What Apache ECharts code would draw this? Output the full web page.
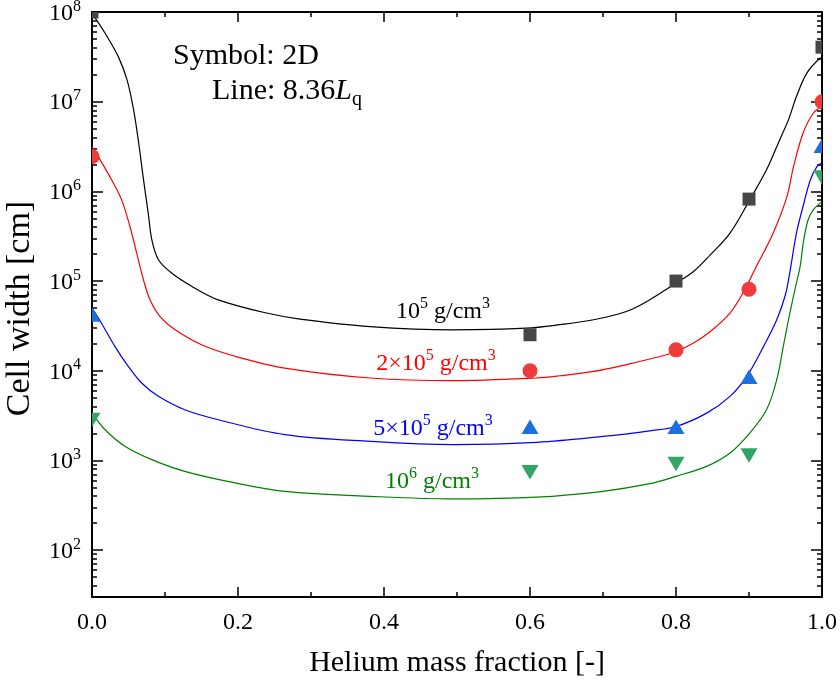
<!DOCTYPE html>
<html><head><meta charset="utf-8">
<script src="https://cdn.jsdelivr.net/npm/echarts@6/dist/echarts.min.js"></script>
<style>html,body{margin:0;padding:0;background:#fff}#c{width:840px;height:684px}</style>
</head><body><div id="c"></div>
<script>
// ---- data (cell width in cm vs helium mass fraction) ----
const xTicks = [0, 0.2, 0.4, 0.6, 0.8, 1.0];
const yDecades = [2, 3, 4, 5, 6, 7, 8];

// 2D simulation symbols
const symX = [0, 0.6, 0.8, 0.9, 1.0];
const sym1e5 = [1.0e8, 2.52e4, 1.0e5, 8.2e5, 4.05e7];
const sym2e5 = [2.44e6, 1.0e4, 1.71e4, 8.1e4, 1.0e7];
const sym5e5 = [4.2e4, 2.36e3, 2.36e3, 8.5e3, 3.2e6];
const sym1e6 = [2.85e3, 743, 920, 1.14e3, 1.44e6];

// 8.36 Lq lines
const line1e5X = [0, 0.018, 0.036, 0.048, 0.057, 0.064, 0.070, 0.077, 0.082, 0.091, 0.109, 0.137, 0.173, 0.239, 0.285, 0.381, 0.495, 0.595, 0.641, 0.687, 0.732, 0.764, 0.80, 0.824, 0.847, 0.874, 0.901, 0.924, 0.942, 0.954, 0.965, 0.979, 0.997, 1.0];
const line1e5Y = [9.66e7, 5.79e7, 3.18e7, 1.75e7, 8.09e6, 3.44e6, 1.46e6, 5.71e5, 2.88e5, 1.73e5, 1.23e5, 8.71e4, 6.17e4, 4.40e4, 3.77e4, 3.11e4, 2.86e4, 2.98e4, 3.26e4, 3.70e4, 4.58e4, 6.18e4, 9.48e4, 1.28e5, 1.96e5, 3.42e5, 8.04e5, 1.74e6, 3.75e6, 6.27e6, 1.14e7, 2.07e7, 3.05e7, 3.09e7];
const line2e5X = [0, 0.0086, 0.027, 0.0406, 0.052, 0.0612, 0.071, 0.0795, 0.093, 0.114, 0.150, 0.196, 0.264, 0.381, 0.495, 0.609, 0.641, 0.687, 0.732, 0.778, 0.80, 0.824, 0.847, 0.874, 0.892, 0.910, 0.933, 0.952, 0.961, 0.974, 0.988, 1.0];
const line2e5Y = [3.16e6, 2.44e6, 1.34e6, 8.04e5, 4.06e5, 2.05e5, 1.0e5, 6.17e4, 4.03e4, 2.86e4, 1.95e4, 1.45e4, 1.07e4, 8.30e3, 7.74e3, 8.30e3, 8.79e3, 9.82e3, 1.17e4, 1.44e4, 1.64e4, 2.04e4, 2.74e4, 4.40e4, 7.41e4, 1.45e5, 3.42e5, 8.75e5, 1.89e6, 4.45e6, 7.43e6, 8.91e6];
const line5e5X = [0, 0.013, 0.0315, 0.0497, 0.068, 0.091, 0.127, 0.173, 0.264, 0.381, 0.495, 0.609, 0.70, 0.764, 0.80, 0.842, 0.874, 0.897, 0.920, 0.938, 0.950, 0.956, 0.965, 0.974, 0.984, 0.993, 1.0];
const line5e5Y = [5.0e4, 3.39e4, 1.86e4, 1.12e4, 7.29e3, 5.18e3, 3.67e3, 2.84e3, 1.94e3, 1.63e3, 1.50e3, 1.59e3, 1.85e3, 2.14e3, 2.39e3, 3.37e3, 5.18e3, 8.65e3, 1.87e4, 3.70e4, 7.08e4, 1.26e5, 3.42e5, 6.78e5, 1.34e6, 1.89e6, 2.09e6];
const line1e6X = [0, 0.018, 0.045, 0.082, 0.127, 0.196, 0.264, 0.381, 0.495, 0.609, 0.70, 0.764, 0.80, 0.842, 0.874, 0.901, 0.924, 0.938, 0.947, 0.956, 0.965, 0.970, 0.975, 0.981, 0.988, 1.0];
const line1e6Y = [3.37e3, 2.20e3, 1.44e3, 1.02e3, 755, 561, 452, 398, 372, 389, 452, 550, 664, 859, 1.21e3, 2.02e3, 3.67e3, 7.94e3, 1.87e4, 4.40e4, 9.55e4, 1.45e5, 2.88e5, 4.82e5, 6.22e5, 7.69e5];

// ---- helpers ----
const FONT = 'Liberation Serif';
const Y_MIN_VAL = 30, Y_MAX_VAL = 1e8;
const lg = v => Math.log10(v);
const yMin = lg(Y_MIN_VAL), yMax = lg(Y_MAX_VAL);
const minorVals = [];
for (let d = 1; d < 8; d++) for (let k = 2; k <= 9; k++) { const v = lg(k * Math.pow(10, d)); if (v >= yMin && v <= yMax) minorVals.push(v); }
const toPts = (xs, ys) => xs.map((x, i) => [x, lg(ys[i])]);

const chart = echarts.init(document.getElementById('c'), null, {renderer: 'canvas'});

const axisLineStyle = {color: '#000', width: 2};
function yAxisDef(pos, minor, showLabel, name) {
  return {
    type: 'value', position: pos, min: yMin, max: yMax,
    axisLine: {show: !minor, lineStyle: axisLineStyle},
    axisTick: {show: true, inside: true, length: minor ? 5 : 11, lineStyle: {color: '#000', width: 1.5},
      customValues: minor ? minorVals : yDecades},
    axisLabel: showLabel ? {
      show: true, customValues: yDecades, margin: 11,
      fontFamily: FONT, fontSize: 24, color: '#000',
      formatter: v => '{b|10}{s|' + Math.round(v) + '}',
      rich: {
        b: {fontFamily: FONT, fontSize: 24, color: '#000', lineHeight: 27, verticalAlign: 'bottom'},
        s: {fontFamily: FONT, fontSize: 16, color: '#000', lineHeight: 16, verticalAlign: 'top'}
      }
    } : {show: false},
    splitLine: {show: false},
    name: name || '', nameLocation: 'middle', nameGap: 55, nameRotate: 90, nameMoveOverlap: false,
    nameTextStyle: {fontFamily: FONT, fontSize: 34, color: '#000', padding: [0, 8, 0, 0]}
  };
}
function xAxisDef(pos, showLabel, name) {
  return {
    type: 'value', position: pos, min: 0, max: 1, interval: 0.2,
    axisLine: {show: true, onZero: false, lineStyle: axisLineStyle},
    axisTick: {show: true, inside: true, length: 10, lineStyle: {color: '#000', width: 1.5}},
    minorTick: {show: true, splitNumber: 2, length: 5, lineStyle: {color: '#000', width: 1.5}},
    axisLabel: showLabel ? {show: true, margin: 14, fontFamily: FONT, fontSize: 24, color: '#000',
      formatter: v => v.toFixed(1)} : {show: false},
    splitLine: {show: false}, minorSplitLine: {show: false},
    name: name || '', nameLocation: 'middle', nameGap: 51, nameMoveOverlap: false,
    nameTextStyle: {fontFamily: FONT, fontSize: 30, color: '#000'}
  };
}

function lineSeries(xs, ys, color) {
  return {type: 'line', xAxisIndex: 0, yAxisIndex: 0, data: toPts(xs, ys), showSymbol: false,
    smooth: 0.35, lineStyle: {color: color, width: 1.2}, clip: true, silent: true, z: 2};
}
// symbols drawn through the cartesian scales, clipped to the plot area like the original
function symSeries(ys, shape, color) {
  return {
    type: 'custom', coordinateSystem: 'cartesian2d', xAxisIndex: 0, yAxisIndex: 0,
    clip: true, silent: true, z: 3, data: toPts(symX, ys),
    renderItem: (params, api) => {
      const p = api.coord([api.value(0), api.value(1)]);
      const x = p[0], y = p[1];
      const style = {fill: color};
      if (shape === 'rect') return {type: 'rect', shape: {x: x - 6.5, y: y - 6.5, width: 13, height: 13}, style};
      if (shape === 'circle') return {type: 'circle', shape: {cx: x, cy: y, r: 7.5}, style};
      if (shape === 'up') return {type: 'polygon', shape: {points: [[x, y - 7.5], [x + 8.5, y + 7], [x - 8.5, y + 7]]}, style};
      return {type: 'polygon', shape: {points: [[x, y + 7.5], [x + 8.5, y - 7], [x - 8.5, y - 7]]}, style};
    }
  };
}

function richLabel(text, color, x, y) {
  return {
    type: 'text', x: x, y: y, silent: true,
    style: {
      text: text, align: 'center', verticalAlign: 'middle', fill: color,
      fontFamily: FONT, fontSize: 24,
      rich: {
        b: {fontFamily: FONT, fontSize: 24, fill: color, lineHeight: 28, verticalAlign: 'bottom'},
        s: {fontFamily: FONT, fontSize: 16, fill: color, lineHeight: 16, verticalAlign: 'top'}
      }
    }
  };
}

const option = {
  backgroundColor: '#fff',
  animation: false,
  grid: {left: 92, right: 18, top: 12, bottom: 87, containLabel: false, outerBoundsMode: 'none'},
  xAxis: [xAxisDef('bottom', true, 'Helium mass fraction [-]'), xAxisDef('top', false)],
  yAxis: [
    yAxisDef('left', false, true, 'Cell width [cm]'),
    yAxisDef('left', true, false),
    yAxisDef('right', false, false),
    yAxisDef('right', true, false)
  ],
  series: [
    lineSeries(line1e5X, line1e5Y, '#000000'),
    lineSeries(line2e5X, line2e5Y, '#FF0000'),
    lineSeries(line5e5X, line5e5Y, '#0000FF'),
    lineSeries(line1e6X, line1e6Y, '#008000'),
    symSeries(sym1e5, 'rect', '#464646'),
    symSeries(sym2e5, 'circle', '#EF3B3B'),
    symSeries(sym5e5, 'up', '#1C6FDC'),
    symSeries(sym1e6, 'down', '#31A466')
  ],
  graphic: [
    {type: 'text', x: 173, y: 56, silent: true,
      style: {text: 'Symbol: 2D', fontFamily: FONT, fontSize: 30, fill: '#000', align: 'left', verticalAlign: 'middle'}},
    {type: 'text', x: 212, y: 93, silent: true,
      style: {text: '{n|Line: 8.36}{i|L}{q|q}', align: 'left', verticalAlign: 'middle', fill: '#000',
        rich: {
          n: {fontFamily: FONT, fontSize: 30, fill: '#000', lineHeight: 34, verticalAlign: 'top'},
          i: {fontFamily: FONT, fontSize: 30, fontStyle: 'italic', fill: '#000', lineHeight: 34, verticalAlign: 'top'},
          q: {fontFamily: FONT, fontSize: 20, fill: '#000', lineHeight: 20, verticalAlign: 'bottom'}
        }}},
    richLabel('{b|10}{s|5}{b| g/cm}{s|3}', '#000000', 443, 310),
    richLabel('{b|2×10}{s|5}{b| g/cm}{s|3}', '#FF0000', 436, 362),
    richLabel('{b|5×10}{s|5}{b| g/cm}{s|3}', '#0000FF', 433, 427),
    richLabel('{b|10}{s|6}{b| g/cm}{s|3}', '#008000', 432, 480)
  ]
};
chart.setOption(option);
</script>
</body></html>
